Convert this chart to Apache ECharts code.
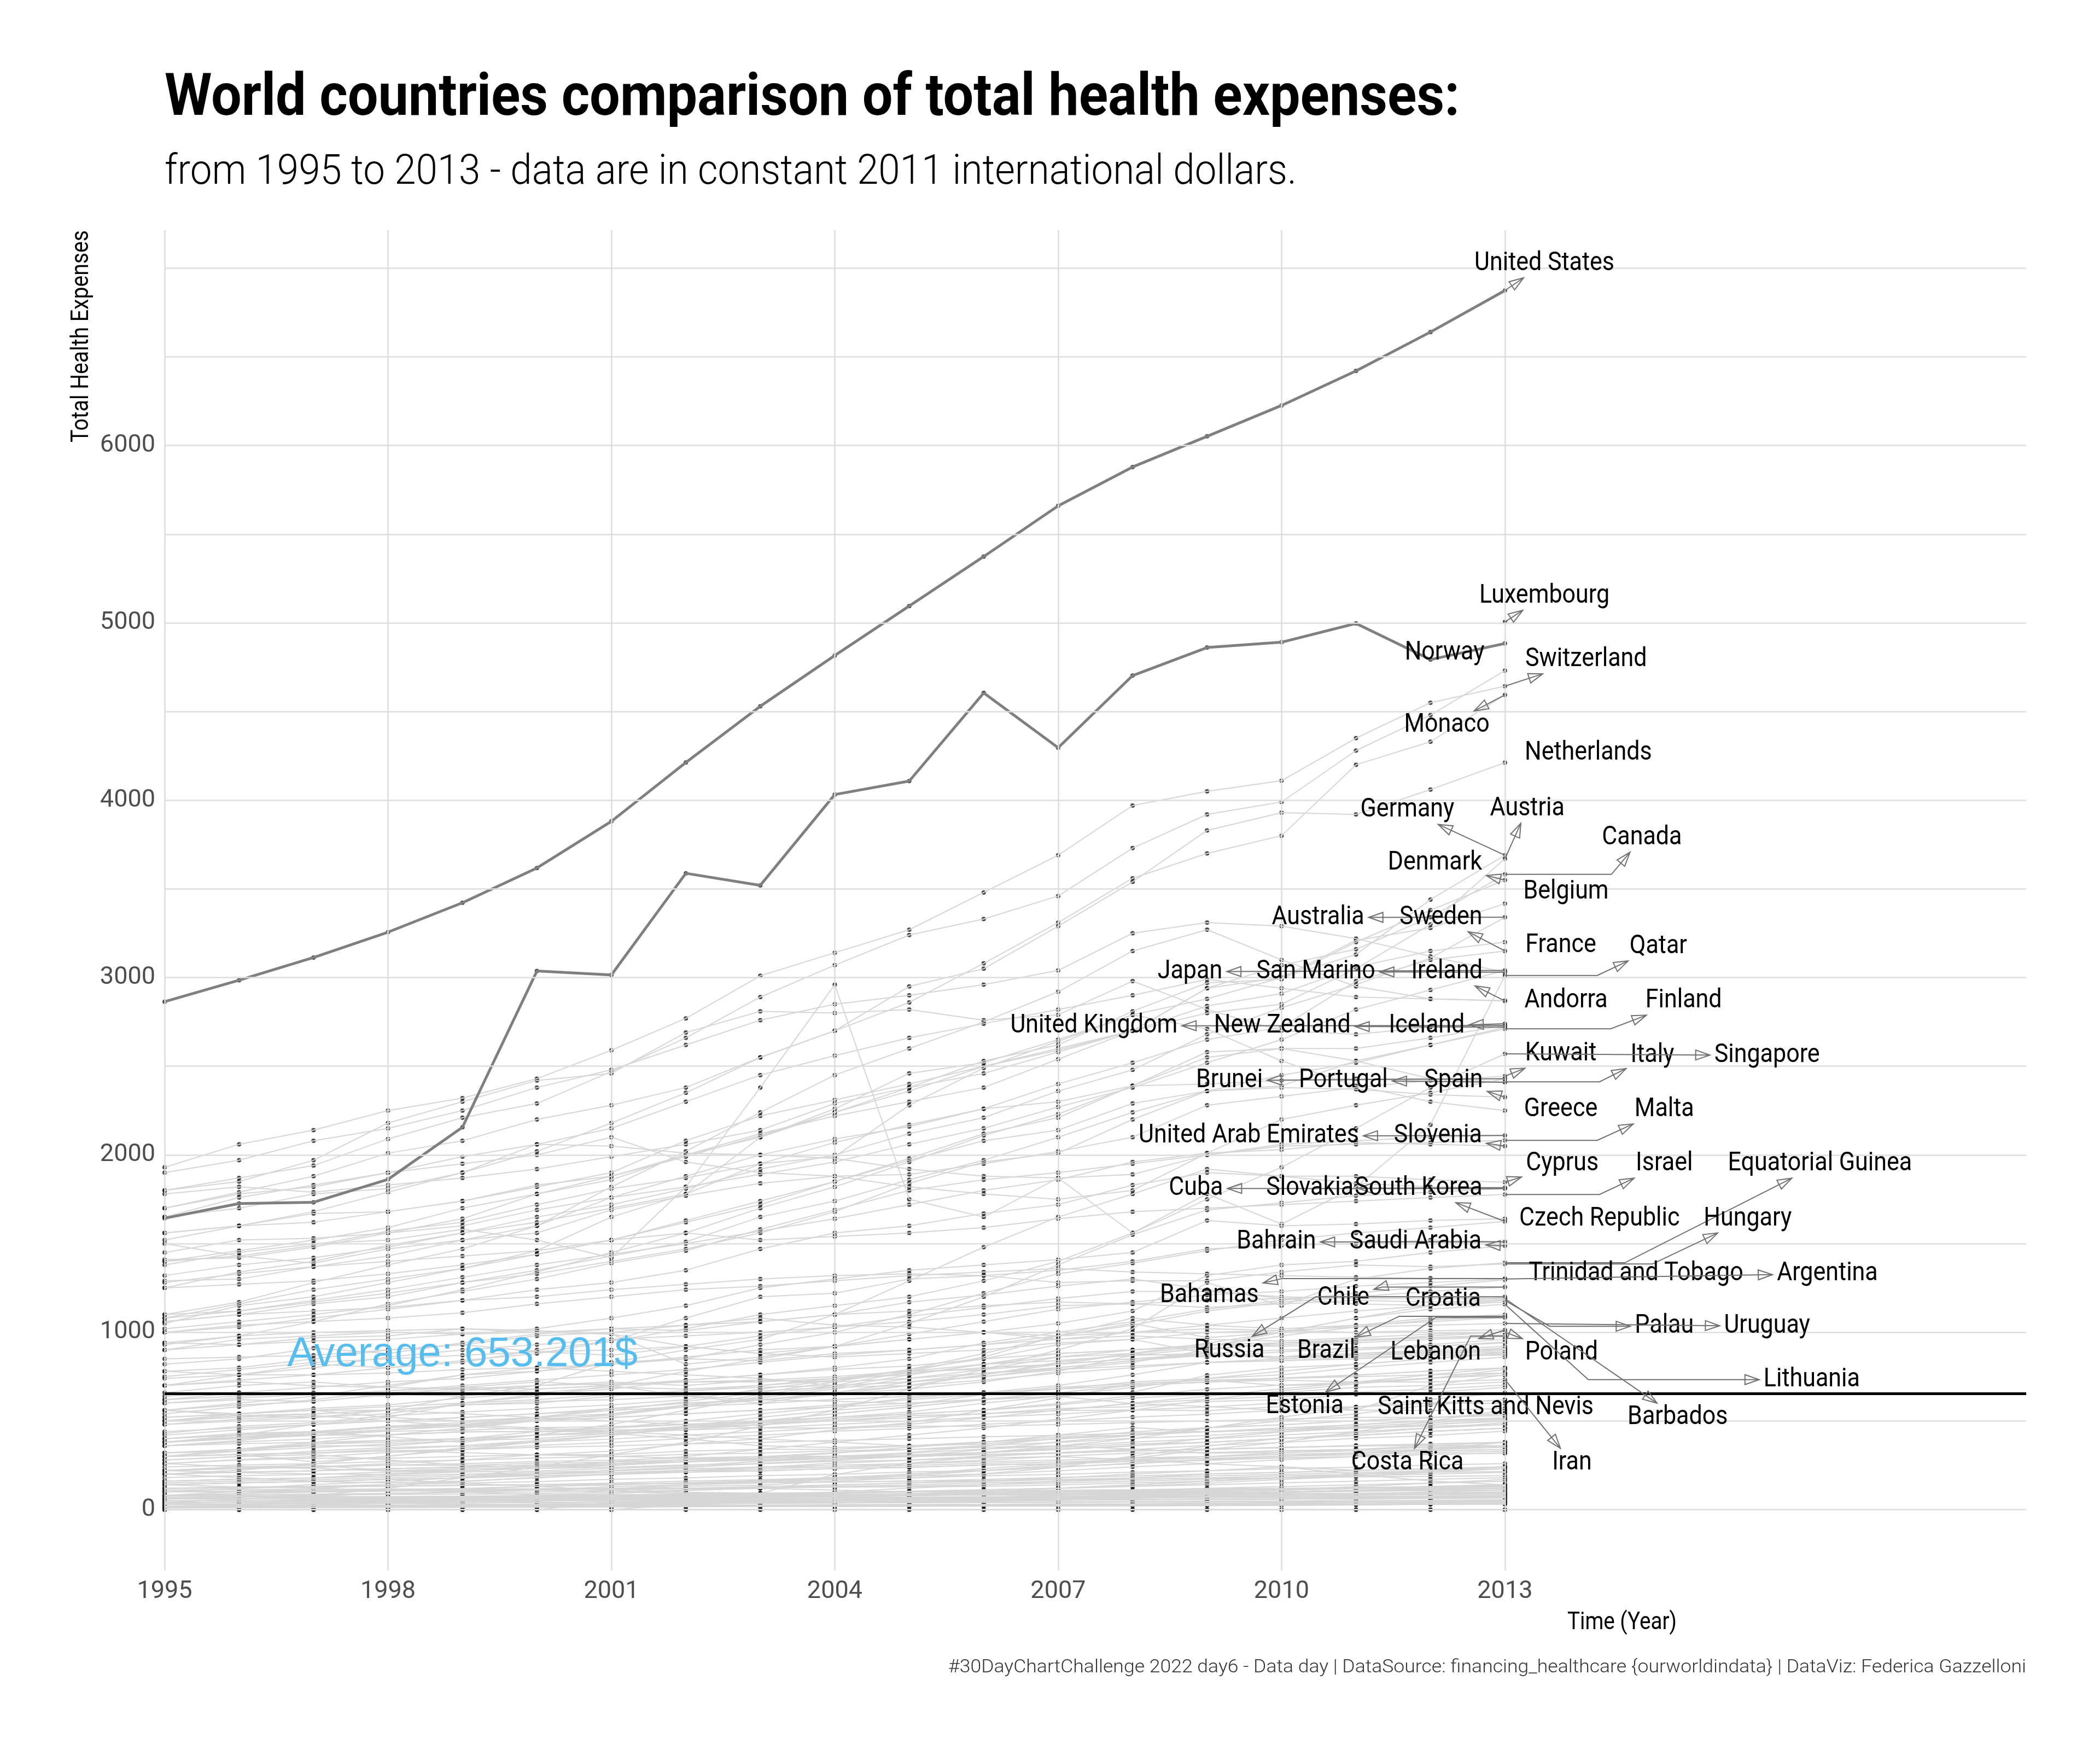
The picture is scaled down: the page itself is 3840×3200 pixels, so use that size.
<!DOCTYPE html>
<html>
<head>
<meta charset="utf-8">
<title>World countries comparison of total health expenses</title>
<script src="https://cdn.jsdelivr.net/npm/echarts@6/dist/echarts.min.js"></script>
<style>
  html, body { margin: 0; padding: 0; background: #fff; }
  #chart { width: 3840px; height: 3200px; }
</style>
</head>
<body>
<div id="chart"></div>
<script>
// ---- data -----------------------------------------------------------
const years = [1995, 1996, 1997, 1998, 1999, 2000, 2001, 2002, 2003, 2004, 2005, 2006, 2007, 2008, 2009, 2010, 2011, 2012, 2013];
const xTicks = [1995, 1998, 2001, 2004, 2007, 2010, 2013];
const yTicks = [0, 1000, 2000, 3000, 4000, 5000, 6000];
const yGrid = [0, 500, 1000, 1500, 2000, 2500, 3000, 3500, 4000, 4500, 5000, 5500, 6000, 6500, 7000];
const average = 653.201;
const highlighted = ['United States', 'Norway'];

// countries that get a label at their 2013 value
const labelledNames = [
  'United States', 'Norway', 'Luxembourg', 'Switzerland', 'Monaco', 'Netherlands', 'Germany', 'Austria',
  'Canada', 'Denmark', 'Belgium', 'Australia', 'Sweden', 'France', 'Qatar', 'Japan', 'San Marino',
  'Ireland', 'Andorra', 'Finland', 'United Kingdom', 'New Zealand', 'Iceland', 'Kuwait', 'Italy',
  'Singapore', 'Brunei', 'Portugal', 'Spain', 'Greece', 'Malta', 'United Arab Emirates', 'Slovenia',
  'Cyprus', 'Israel', 'Equatorial Guinea', 'Cuba', 'Slovakia', 'South Korea', 'Czech Republic',
  'Hungary', 'Bahrain', 'Saudi Arabia', 'Trinidad and Tobago', 'Argentina', 'Bahamas', 'Chile',
  'Croatia', 'Palau', 'Uruguay', 'Russia', 'Brazil', 'Lebanon', 'Poland', 'Lithuania', 'Estonia',
  'Saint Kitts and Nevis', 'Barbados', 'Iran', 'Costa Rica'
];
const labelledValues = [
  [2864, 2985, 3113, 3256, 3422, 3618, 3881, 4213, 4530, 4816, 5095, 5374, 5660, 5879, 6052, 6226, 6421, 6640, 6874],
  [1643, 1726, 1733, 1862, 2156, 3037, 3015, 3588, 3520, 4032, 4108, 4605, 4296, 4703, 4861, 4891, 4997, 4793, 4884],
  [null, null, null, null, null, null, null, null, null, null, null, null, null, null, null, null, null, null, 5005],
  [1930, 2060, 2140, 2250, 2320, 2430, 2590, 2770, 3010, 3140, 3270, 3480, 3690, 3970, 4050, 4110, 4350, 4550, 4643],
  [1700, 1790, 1880, 2010, 2080, 2200, 2280, 2380, 2550, 2700, 2860, 3080, 3310, 3560, 3700, 3800, 4200, 4330, 4594],
  [1560, 1600, 1680, 1790, 1900, 2020, 2180, 2350, 2550, 2700, 2950, 3050, 3290, 3540, 3830, 3930, 3920, 4060, 4212],
  [1780, 1820, 1790, 1830, 1870, 1920, 1990, 2060, 2140, 2290, 2380, 2460, 2580, 2700, 2940, 3000, 3130, 3440, 3690],
  [1520, 1600, 1670, 1680, 1740, 1830, 1880, 2000, 2120, 2220, 2300, 2380, 2540, 2700, 2800, 2850, 3050, 3300, 3670],
  [1410, 1420, 1480, 1560, 1640, 1780, 1880, 1990, 2110, 2240, 2360, 2500, 2590, 2700, 2940, 3070, 3160, 3340, 3582],
  [1400, 1460, 1520, 1590, 1700, 1780, 1860, 2000, 2100, 2240, 2380, 2530, 2620, 2810, 2970, 2990, 3200, 3380, 3550],
  [1320, 1380, 1420, 1480, 1560, 1620, 1700, 1780, 2100, 2260, 2460, 2520, 2650, 2790, 2880, 3000, 3210, 3280, 3417],
  [1250, 1340, 1400, 1490, 1560, 1650, 1720, 1810, 1920, 2000, 2120, 2210, 2360, 2480, 2680, 2830, 2960, 3110, 3340],
  [1290, 1300, 1370, 1430, 1520, 1600, 1760, 1880, 2000, 2090, 2160, 2260, 2400, 2520, 2650, 2720, 2980, 3100, 3150],
  [1560, 1600, 1620, 1680, 1740, 1820, 1900, 2080, 2220, 2310, 2400, 2500, 2600, 2700, 2840, 2910, 3060, 3150, 3200],
  [1380, 1450, 1500, 1520, 1580, 1520, 1420, 1820, 2380, 2960, 1750, 1650, 1870, 1560, 1780, 1610, 1820, 2170, 3012],
  [1450, 1520, 1530, 1560, 1600, 1690, 1760, 1820, 1890, 1960, 2060, 2150, 2270, 2380, 2520, 2650, 2820, 2930, 3040],
  [1900, 1970, 2080, 2150, 2250, 2380, 2480, 2620, 2760, 2850, 2900, 2960, 3040, 3250, 3310, 3290, 3220, 3120, 3030],
  [1100, 1170, 1280, 1380, 1470, 1600, 1820, 2020, 2240, 2450, 2600, 2750, 2920, 3150, 3270, 3100, 2950, 2880, 2868],
  [1650, 1700, 1780, 1810, 1900, 2060, 2150, 2300, 2450, 2560, 2660, 2740, 2820, 2900, 2990, 2940, 2890, 2880, 2870],
  [1250, 1270, 1290, 1330, 1380, 1440, 1520, 1630, 1740, 1850, 1970, 2080, 2140, 2290, 2360, 2390, 2530, 2620, 2711],
  [1020, 1060, 1100, 1150, 1240, 1340, 1450, 1560, 1700, 1820, 1960, 2110, 2230, 2390, 2580, 2600, 2600, 2660, 2730],
  [1100, 1120, 1170, 1220, 1280, 1330, 1400, 1470, 1560, 1680, 1840, 1960, 2010, 2200, 2360, 2450, 2520, 2620, 2720],
  [1800, 1850, 1970, 2180, 2300, 2420, 2460, 2690, 2810, 2800, 2820, 2760, 2790, 2980, 2820, 2700, 2680, 2720, 2740],
  [1500, 1430, 1390, 1470, 1520, 1560, 1690, 1770, 1840, 1880, 1890, 1950, 2020, 2100, 2280, 2330, 2380, 2420, 2444],
  [1400, 1430, 1490, 1570, 1620, 1720, 1810, 1870, 1950, 2070, 2170, 2260, 2300, 2390, 2400, 2420, 2430, 2430, 2412],
  [700, 760, 820, 800, 830, 900, 950, 1020, 1100, 1150, 1200, 1290, 1400, 1560, 1750, 1930, 2150, 2380, 2570],
  [1700, 1780, 1820, 1900, 1950, 2000, 2100, 1960, 1900, 1880, 1820, 1780, 1750, 1800, 2010, 2200, 2280, 2350, 2430],
  [1080, 1160, 1240, 1300, 1360, 1440, 1520, 1620, 1720, 1850, 1980, 2120, 2210, 2390, 2550, 2600, 2530, 2430, 2410],
  [1060, 1100, 1160, 1200, 1280, 1350, 1430, 1510, 1650, 1740, 1860, 1970, 2100, 2240, 2360, 2380, 2370, 2340, 2326],
  [1050, 1150, 1200, 1280, 1360, 1460, 1650, 1780, 1950, 1990, 2280, 2490, 2640, 2790, 2710, 2530, 2390, 2300, 2250],
  [930, 980, 1060, 1160, 1230, 1300, 1390, 1460, 1580, 1690, 1800, 1860, 1900, 1950, 2000, 2050, 2060, 2070, 2082],
  [1650, 1760, 1830, 1900, 1990, 2060, 2050, 2010, 2000, 1980, 1920, 1880, 1870, 1890, 2000, 2060, 2080, 2100, 2110],
  [1080, 1120, 1180, 1240, 1310, 1380, 1440, 1500, 1570, 1640, 1720, 1800, 1860, 1960, 2010, 2030, 2070, 2060, 2050],
  [1000, 1030, 1080, 1130, 1180, 1240, 1280, 1350, 1470, 1560, 1600, 1670, 1720, 1830, 1900, 1880, 1880, 1860, 1846],
  [1280, 1330, 1370, 1400, 1430, 1460, 1520, 1560, 1520, 1540, 1560, 1590, 1640, 1680, 1700, 1720, 1740, 1760, 1777],
  [40, 60, 80, 120, 180, 240, 310, 380, 470, 560, 680, 790, 900, 1020, 1280, 1150, 1300, 1360, 1392],
  [380, 420, 480, 520, 600, 640, 700, 780, 850, 920, 1050, 1200, 1380, 1550, 1690, 1730, 1770, 1790, 1810],
  [620, 660, 690, 720, 740, 780, 830, 900, 960, 1100, 1290, 1480, 1650, 1780, 1920, 1880, 1840, 1820, 1815],
  [500, 540, 560, 560, 640, 700, 830, 850, 930, 1000, 1100, 1220, 1330, 1390, 1460, 1520, 1560, 1590, 1625],
  [940, 930, 950, 960, 990, 1020, 1080, 1150, 1250, 1300, 1350, 1380, 1410, 1450, 1630, 1600, 1610, 1630, 1640],
  [780, 760, 760, 800, 840, 880, 950, 1080, 1200, 1220, 1300, 1320, 1280, 1290, 1290, 1340, 1380, 1370, 1385],
  [1060, 1100, 1120, 1140, 1180, 1200, 1240, 1270, 1300, 1320, 1330, 1320, 1350, 1400, 1470, 1490, 1500, 1520, 1510],
  [850, 860, 870, 900, 930, 890, 870, 920, 880, 920, 960, 1000, 1050, 1120, 1320, 1380, 1400, 1450, 1488],
  [480, 500, 520, 540, 600, 650, 680, 730, 760, 800, 850, 940, 1000, 1060, 1130, 1180, 1220, 1260, 1296],
  [900, 930, 970, 980, 1020, 1010, 990, 820, 860, 920, 990, 1060, 1130, 1170, 1210, 1230, 1260, 1280, 1300],
  [1000, 1040, 1060, 1080, 1110, 1160, 1200, 1240, 1260, 1290, 1320, 1340, 1360, 1340, 1330, 1320, 1310, 1305, 1303],
  [540, 580, 620, 670, 700, 730, 760, 790, 830, 870, 900, 930, 980, 1040, 1120, 1170, 1200, 1230, 1255],
  [750, 790, 830, 850, 870, 890, 900, 920, 980, 1030, 1090, 1140, 1190, 1230, 1230, 1200, 1190, 1190, 1186],
  [780, 800, 850, 900, 930, 980, 1000, 1040, 1060, 1100, 1120, 1150, 1170, 1160, 1140, 1160, 1180, 1170, 1180],
  [940, 980, 1000, 1010, 1020, 1000, 990, 920, 880, 860, 880, 900, 940, 960, 1000, 1010, 1030, 1040, 1050],
  [560, 540, 560, 520, 500, 520, 570, 600, 620, 650, 700, 760, 830, 880, 920, 1000, 1080, 1150, 1200],
  [620, 640, 660, 660, 680, 700, 710, 720, 720, 740, 780, 820, 860, 900, 920, 980, 1030, 1070, 1090],
  [900, 960, 980, 1000, 990, 1000, 1020, 1040, 1080, 1040, 1030, 1000, 980, 1000, 1020, 1010, 1000, 1010, 1013],
  [420, 450, 480, 500, 520, 540, 570, 600, 620, 650, 680, 720, 780, 870, 910, 930, 950, 980, 1000],
  [360, 390, 430, 470, 480, 510, 530, 580, 650, 700, 780, 860, 980, 1050, 970, 1000, 1080, 1130, 1158],
  [430, 470, 490, 530, 550, 570, 590, 620, 680, 730, 790, 880, 980, 1080, 1040, 1020, 1040, 1060, 1083],
  [560, 600, 640, 700, 760, 780, 820, 860, 900, 920, 960, 1000, 960, 980, 960, 950, 970, 990, 1000],
  [740, 760, 800, 860, 900, 930, 960, 980, 1000, 1030, 1060, 1100, 1150, 1160, 1180, 1190, 1200, 1200, 1190],
  [320, 330, 350, 370, 390, 420, 440, 470, 500, 540, 580, 620, 660, 700, 720, 730, 720, 720, 733],
  [520, 540, 560, 580, 600, 620, 650, 670, 690, 700, 720, 750, 790, 830, 900, 940, 960, 970, 979]
];

// all the other countries (grey background lines)
const otherNames = [
  'Bermuda', 'Antigua and Barbuda', 'Saint Lucia', 'Grenada', 'Dominica', 'Saint Vincent and the Grenadines',
  'Seychelles', 'Mexico', 'Turkey', 'Venezuela', 'Panama', 'Latvia', 'Malaysia', 'Bulgaria', 'Romania',
  'Serbia', 'Montenegro', 'Mauritius', 'Botswana', 'South Africa', 'Colombia', 'Peru', 'Ecuador',
  'Dominican Republic', 'Jamaica', 'Thailand', 'China', 'India', 'Indonesia', 'Philippines', 'Vietnam',
  'Egypt', 'Morocco', 'Algeria', 'Tunisia', 'Jordan', 'Syria', 'Iraq', 'Ukraine', 'Belarus', 'Kazakhstan',
  'Georgia', 'Armenia', 'Azerbaijan', 'Moldova', 'Albania', 'Bosnia and Herzegovina', 'Macedonia',
  'Sri Lanka', 'Bangladesh', 'Pakistan', 'Nepal', 'Nigeria', 'Kenya', 'Ethiopia', 'Ghana', 'Tanzania',
  'Uganda', 'Congo', 'Mozambique', 'Madagascar', 'Angola', 'Namibia', 'Gabon', 'Cameroon', 'Senegal',
  'Sudan', 'Zambia', 'Zimbabwe', 'Haiti', 'Honduras', 'Guatemala', 'Nicaragua', 'El Salvador', 'Paraguay',
  'Bolivia', 'Guyana', 'Suriname', 'Belize', 'Fiji', 'Mongolia', 'Cambodia', 'Myanmar', 'Laos', 'Yemen',
  'Oman', 'Libya', 'Maldives', 'Cape Verde', 'Swaziland', 'Lesotho', 'Rwanda', 'Burundi', 'Malawi', 'Mali',
  'Niger', 'Chad', 'Tajikistan', 'Kyrgyzstan', 'Uzbekistan', 'Turkmenistan', 'Papua New Guinea', 'Tonga',
  'Samoa', 'Vanuatu', 'Guinea', 'Sierra Leone', 'Liberia', 'Benin', 'Togo', 'Burkina Faso', 'Eritrea',
  'Djibouti', 'Comoros', 'Bhutan', 'Solomon Islands', 'Somalia', 'North Korea', 'Afghanistan', 'Timor-Leste'
];
const otherValues = [
  [1800, 1870, 1940, 2090, 2210, 2290, 2470, 2660, 2890, 3070, 3240, 3330, 3460, 3730, 3920, 3990, 4280, 4480, 4731],
  [820, 850, 910, 880, 940, 990, 1020, 1010, 1060, 1100, 1170, 1210, 1260, 1300, 1240, 1190, 1160, 1150, 1170],
  [560, 590, 610, 650, 640, 680, 700, 730, 760, 790, 810, 850, 880, 900, 930, 920, 940, 960, 975],
  [520, 540, 570, 590, 630, 660, 690, 680, 700, 740, 760, 820, 840, 870, 880, 860, 870, 880, 890],
  [600, 620, 610, 650, 670, 700, 720, 700, 730, 750, 780, 790, 820, 850, 870, 860, 880, 890, 905],
  [380, 410, 420, 450, 470, 500, 520, 540, 560, 590, 620, 650, 690, 710, 730, 740, 750, 760, 770],
  [660, 700, 720, 690, 760, 800, 780, 760, 740, 700, 720, 750, 800, 840, 880, 860, 900, 920, 945],
  [560, 530, 520, 560, 590, 600, 640, 670, 700, 730, 770, 800, 820, 850, 880, 900, 910, 930, 960],
  [380, 410, 440, 470, 490, 520, 540, 590, 630, 680, 740, 790, 860, 880, 860, 890, 910, 920, 940],
  [600, 630, 650, 640, 690, 720, 700, 640, 600, 660, 720, 770, 800, 840, 870, 860, 880, 900, 920],
  [700, 730, 760, 770, 790, 800, 820, 850, 840, 880, 900, 930, 960, 1000, 1040, 1080, 1120, 1150, 1180],
  [380, 410, 430, 450, 480, 520, 560, 610, 660, 720, 790, 850, 930, 960, 880, 850, 870, 890, 910],
  [320, 340, 360, 360, 390, 400, 430, 450, 480, 510, 540, 560, 590, 630, 650, 660, 690, 700, 720],
  [300, 310, 270, 300, 350, 380, 420, 470, 520, 560, 590, 650, 680, 720, 740, 760, 800, 830, 860],
  [220, 240, 240, 260, 280, 310, 330, 370, 400, 450, 490, 560, 630, 710, 730, 700, 710, 740, 770],
  [400, 430, 440, 410, 380, 420, 480, 560, 640, 690, 760, 820, 880, 900, 930, 940, 950, 970, 985],
  [500, 530, 540, 560, 590, 610, 620, 640, 670, 690, 700, 730, 770, 800, 830, 840, 850, 870, 880],
  [280, 300, 330, 350, 360, 390, 420, 460, 490, 520, 550, 600, 640, 690, 740, 780, 820, 850, 890],
  [300, 330, 370, 390, 400, 440, 460, 500, 540, 580, 630, 660, 700, 760, 830, 840, 860, 870, 870],
  [640, 660, 650, 670, 690, 680, 700, 720, 730, 720, 740, 770, 790, 810, 830, 850, 870, 880, 900],
  [480, 510, 530, 500, 470, 450, 460, 480, 490, 500, 530, 540, 570, 580, 610, 620, 650, 660, 690],
  [260, 280, 290, 290, 300, 310, 310, 330, 340, 340, 360, 370, 400, 420, 460, 500, 540, 590, 620],
  [280, 300, 310, 280, 250, 240, 270, 300, 340, 380, 420, 460, 510, 560, 620, 670, 710, 740, 790],
  [320, 340, 370, 380, 400, 420, 430, 400, 360, 350, 360, 380, 410, 420, 440, 450, 480, 500, 510],
  [380, 400, 420, 420, 440, 440, 450, 450, 460, 460, 470, 470, 480, 490, 500, 510, 520, 520, 530],
  [220, 240, 250, 220, 230, 240, 250, 270, 280, 290, 300, 320, 350, 370, 380, 400, 430, 460, 490],
  [60, 70, 80, 90, 100, 110, 130, 140, 150, 170, 190, 220, 250, 290, 340, 380, 440, 500, 560],
  [60, 62, 65, 67, 70, 74, 79, 80, 82, 83, 87, 88, 91, 95, 101, 110, 119, 131, 140],
  [70, 73, 76, 69, 61, 64, 71, 78, 85, 90, 99, 110, 121, 132, 149, 170, 188, 210, 231],
  [110, 113, 115, 116, 117, 118, 121, 122, 125, 126, 129, 131, 139, 151, 160, 179, 198, 221, 242],
  [80, 91, 99, 112, 118, 131, 139, 152, 163, 178, 201, 219, 242, 258, 283, 301, 318, 342, 361],
  [200, 212, 219, 231, 239, 252, 258, 271, 282, 289, 302, 311, 318, 332, 341, 348, 362, 369, 381],
  [120, 128, 132, 141, 149, 158, 171, 179, 192, 199, 212, 221, 238, 262, 279, 301, 318, 342, 359],
  [220, 232, 238, 251, 249, 262, 268, 281, 289, 302, 309, 322, 341, 358, 402, 438, 461, 479, 502],
  [260, 282, 298, 322, 339, 362, 378, 401, 419, 442, 458, 481, 499, 522, 538, 561, 579, 602, 618],
  [400, 421, 438, 462, 478, 503, 519, 541, 562, 578, 601, 622, 639, 598, 581, 559, 562, 558, 571],
  [180, 192, 198, 212, 219, 232, 238, 252, 259, 272, 279, 291, 299, 281, 258, 242, 198, 162, 139],
  [60, 72, 78, 91, 99, 112, 118, 98, 92, 198, 262, 298, 322, 338, 362, 378, 402, 418, 442],
  [260, 240, 232, 218, 222, 231, 248, 272, 291, 318, 352, 379, 421, 462, 438, 452, 468, 491, 508],
  [300, 312, 318, 341, 359, 382, 398, 421, 439, 462, 481, 518, 562, 598, 621, 638, 662, 679, 702],
  [220, 208, 202, 198, 212, 218, 232, 248, 272, 289, 322, 358, 402, 438, 462, 478, 502, 519, 541],
  [100, 118, 142, 158, 182, 198, 222, 238, 262, 278, 302, 338, 382, 418, 462, 478, 502, 518, 542],
  [80, 102, 118, 142, 158, 182, 198, 222, 238, 262, 278, 302, 318, 342, 318, 332, 338, 352, 358],
  [60, 72, 78, 92, 98, 112, 118, 132, 138, 162, 178, 202, 238, 302, 358, 402, 418, 442, 458],
  [140, 128, 122, 108, 102, 112, 118, 142, 158, 182, 198, 232, 258, 292, 298, 312, 318, 332, 338],
  [160, 172, 178, 202, 218, 242, 258, 282, 298, 322, 338, 362, 378, 402, 418, 442, 458, 482, 498],
  [200, 222, 258, 302, 338, 382, 418, 462, 498, 542, 578, 622, 658, 702, 718, 742, 758, 782, 798],
  [380, 402, 418, 442, 448, 462, 468, 482, 498, 522, 538, 562, 598, 642, 678, 702, 718, 742, 758],
  [140, 152, 158, 172, 178, 192, 198, 212, 218, 232, 238, 252, 258, 272, 278, 292, 298, 312, 318],
  [30, 32, 33, 36, 37, 40, 42, 43, 46, 47, 50, 52, 53, 56, 57, 60, 62, 63, 66],
  [70, 72, 73, 74, 75, 76, 77, 78, 79, 80, 81, 82, 83, 86, 87, 90, 91, 94, 95],
  [30, 31, 34, 35, 38, 39, 42, 43, 46, 47, 52, 55, 60, 63, 70, 79, 90, 99, 110],
  [80, 82, 83, 86, 87, 90, 99, 111, 119, 131, 139, 151, 159, 171, 179, 191, 199, 211, 214],
  [60, 62, 63, 66, 67, 70, 71, 74, 75, 78, 79, 82, 83, 86, 87, 90, 91, 94, 95],
  [12, 13, 13, 15, 16, 17, 18, 19, 20, 22, 23, 26, 27, 30, 33, 40, 43, 48, 51],
  [40, 43, 48, 51, 56, 59, 64, 67, 72, 75, 80, 89, 100, 109, 120, 129, 140, 149, 160],
  [30, 31, 34, 35, 38, 40, 43, 48, 51, 56, 59, 66, 71, 80, 87, 96, 103, 112, 119],
  [40, 41, 44, 45, 48, 49, 52, 55, 60, 63, 68, 71, 76, 79, 84, 87, 92, 95, 100],
  [10, 11, 12, 12, 13, 14, 15, 16, 18, 18, 19, 21, 22, 24, 25, 28, 30, 31, 34],
  [30, 33, 34, 35, 38, 41, 42, 43, 46, 49, 50, 51, 54, 57, 58, 59, 62, 65, 66],
  [20, 22, 23, 26, 27, 30, 31, 34, 35, 38, 39, 40, 41, 42, 43, 44, 45, 46, 48],
  [60, 72, 81, 88, 99, 82, 91, 108, 121, 139, 151, 162, 178, 201, 219, 241, 222, 228, 241],
  [360, 372, 379, 391, 399, 421, 439, 461, 479, 502, 518, 541, 559, 601, 639, 681, 719, 761, 799],
  [400, 421, 438, 462, 478, 461, 439, 421, 398, 381, 359, 382, 398, 421, 439, 461, 478, 502, 518],
  [50, 52, 53, 56, 57, 60, 63, 68, 71, 76, 79, 84, 87, 92, 95, 100, 103, 108, 111],
  [40, 43, 48, 51, 56, 59, 64, 67, 72, 75, 80, 83, 88, 91, 96, 99, 104, 107, 110],
  [30, 33, 38, 41, 46, 49, 56, 61, 70, 79, 90, 99, 120, 139, 160, 179, 200, 219, 240],
  [50, 53, 58, 61, 66, 69, 74, 77, 82, 85, 90, 93, 98, 101, 106, 109, 130, 149, 170],
  [140, 151, 159, 171, 149, 131, 109, 91, 79, 71, 59, 61, 69, 81, 89, 101, 109, 121, 129],
  [40, 43, 48, 49, 52, 53, 56, 57, 60, 61, 64, 65, 68, 69, 72, 73, 76, 77, 80],
  [150, 161, 169, 181, 189, 201, 209, 221, 229, 241, 249, 261, 269, 281, 289, 301, 309, 321, 329],
  [200, 211, 219, 231, 239, 251, 259, 271, 279, 291, 299, 321, 339, 361, 379, 401, 419, 441, 459],
  [160, 171, 179, 191, 199, 211, 219, 231, 239, 251, 259, 271, 279, 291, 299, 311, 319, 331, 339],
  [360, 382, 398, 422, 438, 441, 439, 461, 478, 502, 518, 541, 559, 562, 558, 581, 579, 601, 598],
  [300, 311, 319, 331, 321, 309, 301, 289, 281, 291, 299, 321, 359, 401, 459, 521, 579, 621, 659],
  [160, 171, 179, 191, 199, 202, 209, 221, 219, 231, 239, 251, 259, 281, 299, 321, 339, 361, 379],
  [140, 151, 159, 171, 179, 201, 219, 241, 259, 281, 299, 321, 339, 361, 379, 401, 419, 441, 459],
  [440, 461, 479, 501, 519, 541, 559, 581, 599, 621, 639, 661, 679, 701, 719, 741, 759, 781, 799],
  [300, 311, 319, 331, 339, 351, 359, 371, 379, 391, 399, 411, 419, 431, 439, 451, 459, 471, 479],
  [240, 251, 259, 271, 279, 291, 299, 311, 319, 331, 339, 351, 359, 341, 319, 322, 331, 339, 351],
  [120, 121, 129, 131, 139, 141, 149, 161, 169, 181, 189, 201, 219, 241, 259, 281, 299, 341, 379],
  [40, 43, 48, 51, 56, 59, 64, 69, 76, 81, 88, 93, 100, 105, 112, 117, 124, 129, 140],
  [10, 11, 12, 13, 14, 15, 16, 17, 18, 18, 19, 20, 20, 21, 22, 24, 26, 30, 34],
  [30, 31, 34, 35, 38, 39, 42, 43, 46, 47, 50, 51, 54, 55, 58, 59, 62, 66, 70],
  [60, 63, 68, 71, 76, 79, 84, 87, 92, 95, 100, 111, 120, 131, 140, 151, 160, 171, 180],
  [700, 722, 698, 688, 681, 661, 649, 641, 619, 611, 598, 621, 639, 661, 758, 801, 819, 851, 879],
  [500, 521, 539, 561, 541, 519, 501, 479, 461, 481, 499, 521, 539, 561, 579, 601, 561, 699, 761],
  [300, 341, 379, 421, 459, 501, 539, 581, 619, 661, 699, 761, 819, 881, 939, 1001, 1039, 1081, 1099],
  [140, 151, 159, 171, 179, 191, 199, 211, 219, 231, 239, 251, 259, 271, 279, 291, 299, 311, 319],
  [200, 211, 219, 231, 239, 251, 259, 271, 279, 301, 319, 341, 359, 381, 399, 421, 439, 461, 479],
  [80, 83, 88, 91, 96, 99, 110, 119, 130, 139, 150, 159, 170, 179, 190, 199, 210, 219, 230],
  [20, 22, 23, 26, 27, 30, 33, 38, 41, 48, 53, 60, 69, 80, 89, 100, 109, 116, 120],
  [12, 12, 13, 14, 15, 16, 17, 18, 19, 20, 21, 24, 25, 28, 29, 32, 33, 36, 38],
  [20, 21, 24, 25, 28, 29, 32, 33, 36, 39, 44, 47, 52, 55, 60, 63, 68, 71, 74],
  [30, 31, 34, 35, 38, 39, 42, 43, 46, 47, 50, 51, 54, 55, 58, 59, 62, 63, 66],
  [14, 15, 16, 17, 18, 19, 20, 21, 24, 25, 28, 29, 32, 33, 36, 37, 40, 41, 44],
  [20, 21, 24, 25, 28, 29, 32, 33, 36, 37, 40, 41, 44, 45, 48, 49, 52, 53, 56],
  [30, 26, 24, 22, 24, 28, 32, 36, 40, 46, 52, 60, 70, 80, 90, 100, 110, 120, 130],
  [80, 76, 72, 70, 72, 76, 80, 84, 90, 96, 104, 112, 120, 140, 160, 180, 190, 200, 210],
  [100, 101, 99, 104, 108, 112, 116, 121, 124, 128, 132, 141, 150, 161, 170, 181, 200, 219, 240],
  [200, 181, 159, 151, 161, 179, 201, 219, 241, 239, 261, 279, 301, 319, 321, 331, 339, 351, 359],
  [100, 104, 108, 110, 112, 114, 116, 118, 120, 110, 100, 100, 104, 108, 112, 116, 120, 120, 120],
  [200, 211, 219, 231, 239, 251, 259, 271, 279, 291, 299, 311, 319, 331, 339, 351, 359, 361, 360],
  [220, 231, 239, 251, 259, 271, 279, 291, 299, 301, 299, 311, 319, 331, 339, 351, 359, 371, 379],
  [120, 124, 127, 133, 136, 141, 143, 149, 152, 155, 161, 163, 169, 171, 177, 179, 185, 187, 192],
  [30, 32, 33, 36, 37, 40, 41, 44, 45, 48, 49, 52, 53, 56, 57, 60, 61, 64, 66],
  [40, 42, 45, 46, 49, 52, 57, 60, 66, 71, 78, 85, 90, 97, 104, 111, 120, 127, 136],
  [20, 22, 25, 26, 29, 30, 34, 39, 42, 47, 52, 57, 64, 71, 76, 79, 84, 87, 90],
  [40, 42, 45, 46, 48, 51, 52, 55, 56, 59, 60, 63, 64, 67, 68, 71, 72, 75, 76],
  [50, 52, 55, 56, 58, 61, 62, 65, 66, 69, 70, 73, 74, 77, 78, 81, 82, 85, 86],
  [30, 32, 35, 36, 38, 41, 44, 49, 52, 57, 60, 65, 68, 73, 76, 81, 84, 87, 88],
  [20, 20, 22, 22, 24, 24, 26, 26, 26, 28, 28, 28, 28, 30, 30, 30, 30, 30, 30],
  [120, 124, 129, 132, 137, 140, 145, 148, 153, 156, 161, 170, 181, 190, 201, 210, 221, 230, 241],
  [40, 42, 45, 46, 49, 50, 53, 54, 57, 58, 61, 62, 65, 66, 69, 70, 73, 74, 76],
  [80, 91, 99, 111, 119, 131, 139, 151, 159, 171, 179, 191, 199, 211, 219, 231, 239, 251, 260],
  [100, 102, 105, 106, 109, 110, 101, 90, 93, 96, 101, 104, 109, 112, 117, 120, 125, 128, 132],
  [0, 0, 0, 0, 0, 0, 0, 0, 0, 0, 0, 0, 0, 0, 0, 0, 0, 0, 0],
  [0, 0, 0, 0, 0, 0, 0, 0, 0, 0, 0, 0, 0, 0, 0, 0, 0, 0, 0],
  [0, 0, 0, 0, 0, 0, 0, 31, 42, 49, 61, 69, 82, 89, 101, 109, 121, 129, 140],
  [0, 0, 0, 0, 0, 0, 41, 59, 82, 99, 121, 139, 161, 179, 201, 209, 221, 229, 240]
];

// ---- label placement (repelled labels) ------------------------------
// [country, label year, label value, elbow year, elbow level, draw segment]
const labelLayout = [
  ['United States', 2013.53, 7026, null, null, true],
  ['Luxembourg', 2013.53, 5151, null, null, true],
  ['Norway', 2012.19, 4831, null, null, false],
  ['Switzerland', 2014.09, 4793, null, null, true],
  ['Monaco', 2012.22, 4423, null, null, true],
  ['Netherlands', 2014.12, 4266, null, null, false],
  ['Germany', 2011.69, 3944, null, null, true],
  ['Austria', 2013.30, 3951, null, null, true],
  ['Canada', 2014.84, 3787, 2014.43, 'point', true],
  ['Denmark', 2012.06, 3645, null, null, true],
  ['Belgium', 2013.82, 3483, null, null, false],
  ['Australia', 2010.49, 3339, null, null, true],
  ['Sweden', 2012.14, 3339, null, null, true],
  ['France', 2013.75, 3182, null, null, false],
  ['Qatar', 2015.06, 3174, 2014.24, 'point', true],
  ['Japan', 2008.77, 3033, null, null, true],
  ['San Marino', 2010.46, 3033, null, null, true],
  ['Ireland', 2012.22, 3033, null, null, true],
  ['Andorra', 2013.82, 2868, null, null, false],
  ['Finland', 2015.40, 2868, 2014.42, 'point', true],
  ['United Kingdom', 2007.48, 2728, null, null, true],
  ['New Zealand', 2010.01, 2726, null, null, true],
  ['Iceland', 2011.95, 2726, null, null, true],
  ['Kuwait', 2013.75, 2569, null, null, true],
  ['Italy', 2014.98, 2561, 2014.27, 'point', true],
  ['Singapore', 2016.52, 2561, null, null, true],
  ['Brunei', 2009.30, 2420, null, null, true],
  ['Portugal', 2010.83, 2420, null, null, true],
  ['Spain', 2012.31, 2420, null, null, true],
  ['Greece', 2013.75, 2255, null, null, false],
  ['Malta', 2015.14, 2255, 2014.24, 'point', true],
  ['United Arab Emirates', 2009.56, 2106, null, null, true],
  ['Slovenia', 2012.10, 2106, null, null, true],
  ['Cyprus', 2013.77, 1949, null, null, true],
  ['Israel', 2015.14, 1949, 2014.27, 'point', true],
  ['Equatorial Guinea', 2017.23, 1949, 2014.61, 'point', true],
  ['Cuba', 2008.85, 1811, null, null, true],
  ['Slovakia', 2010.38, 1811, null, null, true],
  ['South Korea', 2011.84, 1811, null, null, true],
  ['Czech Republic', 2014.27, 1640, null, null, false],
  ['Hungary', 2016.26, 1640, 2014.98, 'point', true],
  ['Bahrain', 2009.93, 1509, null, null, true],
  ['Saudi Arabia', 2011.80, 1509, null, null, true],
  ['Trinidad and Tobago', 2014.76, 1330, null, null, false],
  ['Argentina', 2017.33, 1330, null, null, true],
  ['Bahamas', 2009.03, 1207, 2010.01, 'point', true],
  ['Chile', 2010.83, 1193, 2011.35, 'point', true],
  ['Croatia', 2012.17, 1186, null, null, false],
  ['Palau', 2015.14, 1034, 2013.60, 'label', true],
  ['Uruguay', 2016.52, 1034, null, null, true],
  ['Russia', 2009.30, 897, 2010.46, 'point', true],
  ['Brazil', 2010.60, 893, 2011.58, 'point', true],
  ['Lebanon', 2012.07, 884, null, null, true],
  ['Poland', 2013.76, 884, null, null, true],
  ['Lithuania', 2017.12, 733, 2014.12, 'label', true],
  ['Estonia', 2010.31, 582, 2012.07, 'point', true],
  ['Saint Kitts and Nevis', 2012.74, 575, null, null, false],
  ['Barbados', 2015.32, 520, null, null, true],
  ['Iran', 2013.90, 265, null, null, true],
  ['Costa Rica', 2011.69, 265, 2012.54, 'point', true]
];
const averageLabelAt = [1999, 875];

// ---- helpers --------------------------------------------------------
const measureCtx = document.createElement('canvas').getContext('2d');
function textWidth(text, font) {
  measureCtx.font = font;
  return measureCtx.measureText(text).width;
}
// squeeze Roboto so it takes the width of the condensed face of the original
function fitScale(text, font, target) {
  return target / textWidth(text, font);
}

const labelFont = '48px Roboto';
const labelScale = fitScale('United States', labelFont, 256);
const segColor = '#707070';

function value2013(name) {
  const vals = labelledValues[labelledNames.indexOf(name)];
  return vals[vals.length - 1];
}

// where the line from `from` to the label centre enters the label box
function boxEntry(from, c, hw, hh) {
  const dx = c[0] - from[0], dy = c[1] - from[1];
  if (Math.abs(dx) <= hw && Math.abs(dy) <= hh) return null;
  const s = Math.min(dx !== 0 ? hw / Math.abs(dx) : Infinity, dy !== 0 ? hh / Math.abs(dy) : Infinity);
  return [c[0] - dx * s, c[1] - dy * s];
}

function arrowHead(prev, tip) {
  let ux = tip[0] - prev[0], uy = tip[1] - prev[1];
  const len = Math.hypot(ux, uy) || 1;
  ux /= len; uy /= len;
  const L = 26, W = 9;
  const bx = tip[0] - ux * L, by = tip[1] - uy * L;
  return [tip, [bx - uy * W, by + ux * W], [bx + uy * W, by - ux * W]];
}

function renderLabel(params, api) {
  const [name, lx, ly, ex, eAt, seg] = labelLayout[params.dataIndex];
  const v = value2013(name);
  const c = api.coord([lx, ly]);
  const w = textWidth(name, labelFont) * labelScale;
  const children = [];
  if (seg) {
    const pts = [api.coord([2013, v])];
    if (ex != null) pts.push(api.coord([ex, eAt === 'label' ? ly : v]));
    const end = boxEntry(pts[pts.length - 1], c, w / 2 + 8, 26);
    if (end) {
      pts.push(end);
      children.push({
        type: 'polyline', shape: { points: pts },
        style: { stroke: segColor, lineWidth: 2, fill: 'none' }
      });
      children.push({
        type: 'polygon', shape: { points: arrowHead(pts[pts.length - 2], end) },
        style: { stroke: segColor, lineWidth: 2, fill: 'none' }
      });
    }
  }
  children.push({
    type: 'text', x: c[0], y: c[1], scaleX: labelScale,
    style: { text: name, x: 0, y: 0, align: 'center', verticalAlign: 'middle', font: labelFont, fill: '#000' }
  });
  return { type: 'group', children };
}

// ---- series ---------------------------------------------------------
const allNames = labelledNames.concat(otherNames);
const allValues = labelledValues.concat(otherValues);

const lineSeries = allNames.map((name, i) => {
  const hl = highlighted.includes(name);
  return {
    type: 'line',
    name: name,
    data: years.map((y, j) => [y, allValues[i][j]]),
    showSymbol: false,
    connectNulls: false,
    silent: true,
    z: hl ? 4 : 2,
    lineStyle: { color: hl ? '#7f7f7f' : '#d6d6d6', width: hl ? 5 : 2 }
  };
});

const pointData = [];
allValues.forEach(vals => vals.forEach((v, j) => { if (v != null) pointData.push([years[j], v]); }));

const titleText = 'World countries comparison of total health expenses:';
const subtitleText = 'from 1995 to 2013 - data are in constant 2011 international dollars.';
const captionText = '#30DayChartChallenge 2022 day6 - Data day | DataSource: financing_healthcare {ourworldindata} | DataViz: Federica Gazzelloni';

const chart = echarts.init(document.getElementById('chart'), null, { renderer: 'canvas', width: 3840, height: 3200 });

chart.setOption({
  animation: false,
  backgroundColor: '#ffffff',
  grid: { left: 301, right: 135, top: 421, bottom: 328, containLabel: false },
  xAxis: {
    type: 'value', min: 1995, max: 2020,
    axisLine: { show: false }, axisTick: { show: false }, splitLine: { show: false },
    axisLabel: {
      customValues: xTicks, formatter: v => String(v), margin: 16,
      fontFamily: 'Roboto', fontSize: 45, color: '#4d4d4d'
    }
  },
  yAxis: {
    type: 'value', min: -344, max: 7214,
    axisLine: { show: false }, axisTick: { show: false }, splitLine: { show: false },
    axisLabel: {
      customValues: yTicks, formatter: v => String(v), margin: 17,
      fontFamily: 'Roboto', fontSize: 45, color: '#4d4d4d'
    }
  },
  graphic: [
    {
      type: 'text', x: 301, y: 183, scaleX: fitScale(titleText, 'bold 108px Roboto', 2368),
      style: { text: titleText, font: 'bold 108px Roboto', fill: '#000', align: 'left', verticalAlign: 'middle' }
    },
    {
      type: 'text', x: 301, y: 317, scaleX: fitScale(subtitleText, '300 76px Roboto', 2070),
      style: { text: subtitleText, font: '300 76px Roboto', fill: '#000', align: 'left', verticalAlign: 'middle' }
    },
    {
      type: 'text', x: 150, y: 615, rotation: Math.PI / 2,
      scaleX: fitScale('Total Health Expenses', '44px Roboto', 388),
      style: { text: 'Total Health Expenses', font: '44px Roboto', fill: '#000', align: 'center', verticalAlign: 'middle' }
    },
    {
      type: 'text', x: 2966, y: 2968, scaleX: fitScale('Time (Year)', '44px Roboto', 200),
      style: { text: 'Time (Year)', font: '44px Roboto', fill: '#000', align: 'center', verticalAlign: 'middle' }
    },
    {
      type: 'text', x: 3705, y: 3049, scaleX: fitScale(captionText, '300 34px Roboto', 1971),
      style: { text: captionText, font: '300 34px Roboto', fill: '#333', align: 'right', verticalAlign: 'middle' }
    }
  ],
  series: [
    {
      // panel grid
      type: 'line', data: [], z: 0, silent: true,
      markLine: {
        silent: true, symbol: ['none', 'none'], animation: false, label: { show: false },
        lineStyle: { color: '#dcdcdc', width: 2.5, type: 'solid' },
        data: yGrid.map(v => ({ yAxis: v })).concat(xTicks.map(v => ({ xAxis: v })))
      }
    },
    {
      // points sit under the lines, as in the original layer order
      type: 'scatter', data: pointData, symbol: 'circle', symbolSize: 8, z: 1, silent: true,
      itemStyle: { color: '#1a1a1a' }
    },
    ...lineSeries,
    {
      type: 'line', data: [], z: 5, silent: true,
      markLine: {
        silent: true, symbol: ['none', 'none'], animation: false, label: { show: false },
        lineStyle: { color: '#000', width: 5, type: 'solid' },
        data: [{ yAxis: average }]
      }
    },
    {
      type: 'custom', coordinateSystem: 'cartesian2d', silent: true, z: 9, clip: false,
      data: [averageLabelAt], encode: { x: 0, y: 1 },
      renderItem: (params, api) => {
        const c = api.coord([api.value(0), api.value(1)]);
        return {
          type: 'text', x: c[0], y: c[1],
          style: {
            text: 'Average: ' + average + '$', x: 0, y: 0, align: 'center', verticalAlign: 'middle',
            font: '76px "Liberation Sans", Arial, Helvetica, sans-serif', fill: '#56bdee'
          }
        };
      }
    },
    {
      type: 'custom', coordinateSystem: 'cartesian2d', silent: true, z: 10, clip: false,
      data: labelLayout.map(d => [d[1], d[2]]), encode: { x: 0, y: 1 },
      renderItem: renderLabel
    }
  ]
});
</script>
</body>
</html>
